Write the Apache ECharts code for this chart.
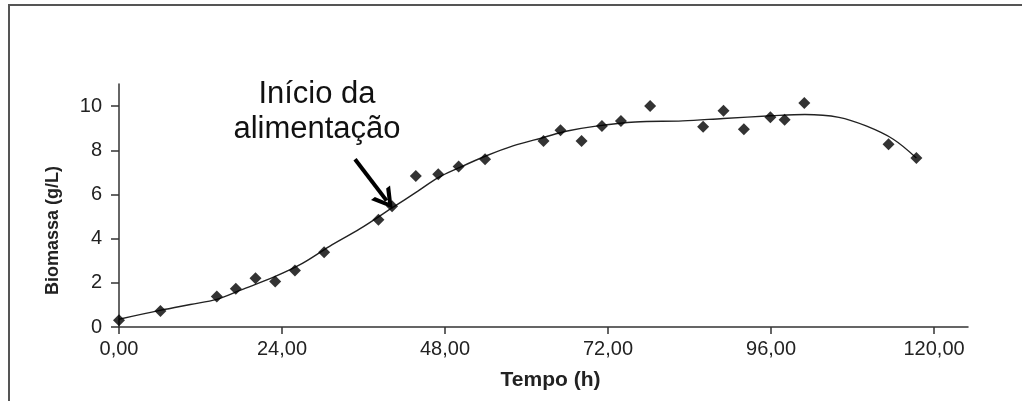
<!DOCTYPE html>
<html>
<head>
<meta charset="utf-8">
<script src="https://cdn.jsdelivr.net/npm/echarts@6/dist/echarts.min.js"></script>
<style>
html,body{margin:0;padding:0;background:#fff;}
#chart{width:1022px;height:401px;}
</style>
</head>
<body>
<div id="chart"></div>
<script>
// Observed data (time in h, biomass in g/L)
const obsTime = [0, 6.1, 14.4, 17.2, 20.1, 23.0, 25.9, 30.2, 38.2, 40.2, 43.7, 47.0, 50.0, 53.9, 62.5, 65.0, 68.1, 71.1, 73.9, 78.2, 86.0, 89.0, 92.0, 95.9, 98.0, 100.9, 113.3, 117.4];
const obsBiomass = [0.3, 0.72, 1.38, 1.73, 2.21, 2.06, 2.56, 3.38, 4.86, 5.47, 6.83, 6.91, 7.26, 7.59, 8.42, 8.91, 8.42, 9.1, 9.33, 10.0, 9.06, 9.79, 8.95, 9.49, 9.38, 10.14, 8.27, 7.65];
// Fitted curve
const fitTime = [0, 6, 10.5, 14.4, 18, 23, 27, 31, 35.5, 40.2, 44, 47, 50, 54, 58, 62.5, 66, 70, 76, 83, 89, 96, 101, 106, 110, 114, 117.4];
const fitBiomass = [0.35, 0.75, 1.02, 1.25, 1.68, 2.29, 2.88, 3.65, 4.45, 5.39, 6.15, 6.76, 7.2, 7.74, 8.2, 8.58, 8.87, 9.08, 9.28, 9.33, 9.44, 9.56, 9.62, 9.49, 9.1, 8.5, 7.65];
const xTicks = [0, 24, 48, 72, 96, 120];
const yTicks = [0, 2, 4, 6, 8, 10];
const xName = 'Tempo (h)';
const yName = 'Biomassa (g/L)';
const noteText = 'Início da\nalimentação';
const arrowFrom = [34.75, 7.59];
const arrowTo = [39.4, 5.72];

const obsData = obsTime.map((t, i) => [t, obsBiomass[i]]);
const fitData = fitTime.map((t, i) => [t, fitBiomass[i]]);

const chart = echarts.init(document.getElementById('chart'), null, {renderer: 'canvas'});
const font = 'Liberation Sans, Arial, sans-serif';
chart.setOption({
  animation: false,
  backgroundColor: '#fff',
  grid: {left: 119, right: 54, top: 84, bottom: 74},
  xAxis: {
    type: 'value', min: 0, max: 125,
    name: xName, nameLocation: 'middle', nameGap: 43,
    nameTextStyle: {fontFamily: font, fontWeight: 'bold', fontSize: 21, color: '#222', padding: [0, 0, 0, 14]},
    axisLine: {lineStyle: {color: '#333', width: 1.5}},
    axisTick: {show: true, inside: false, length: 7, customValues: xTicks, lineStyle: {color: '#333', width: 1.5}},
    axisLabel: {customValues: xTicks, margin: 12, fontFamily: font, fontSize: 20, color: '#222',
      formatter: v => v.toFixed(2).replace('.', ',')},
    splitLine: {show: false}
  },
  yAxis: {
    type: 'value', min: 0, max: 11,
    name: yName, nameLocation: 'middle', nameGap: 57,
    nameTextStyle: {fontFamily: font, fontWeight: 'bold', fontSize: 18, color: '#222', padding: [0, 50, 0, 0]},
    axisLine: {show: true, lineStyle: {color: '#333', width: 1.5}},
    axisTick: {show: true, inside: false, length: 8, customValues: yTicks, lineStyle: {color: '#333', width: 1.5}},
    axisLabel: {customValues: yTicks, margin: 17, fontFamily: font, fontSize: 20, color: '#222'},
    splitLine: {show: false}
  },
  series: [
    {
      type: 'line', data: fitData, smooth: 0.35, showSymbol: false,
      lineStyle: {color: '#222', width: 1.4}, z: 2,
      markLine: {
        silent: true, symbol: ['none', 'path://M0,18 L11,0 L22,18 L17.5,18 L11,7 L4.5,18 Z'], symbolSize: [24, 20],
        lineStyle: {color: '#000', width: 4, type: 'solid', opacity: 1}, label: {show: false},
        emphasis: {disabled: true},
        data: [[{coord: arrowFrom}, {coord: arrowTo}]]
      }
    },
    {
      type: 'scatter', data: obsData, symbol: 'diamond', symbolSize: 12,
      itemStyle: {color: '#000'}, z: 3
    }
  ],
  graphic: [
    {type: 'rect', shape: {x: 9, y: 5, width: 1040, height: 430},
      style: {fill: 'none', stroke: '#555', lineWidth: 2}, silent: true},
    {type: 'text', x: 317, y: 112,
      style: {text: noteText, font: '31px Liberation Sans, Arial, sans-serif', fill: '#111',
        align: 'center', verticalAlign: 'middle', lineHeight: 35}}
  ]
});
</script>
</body>
</html>
